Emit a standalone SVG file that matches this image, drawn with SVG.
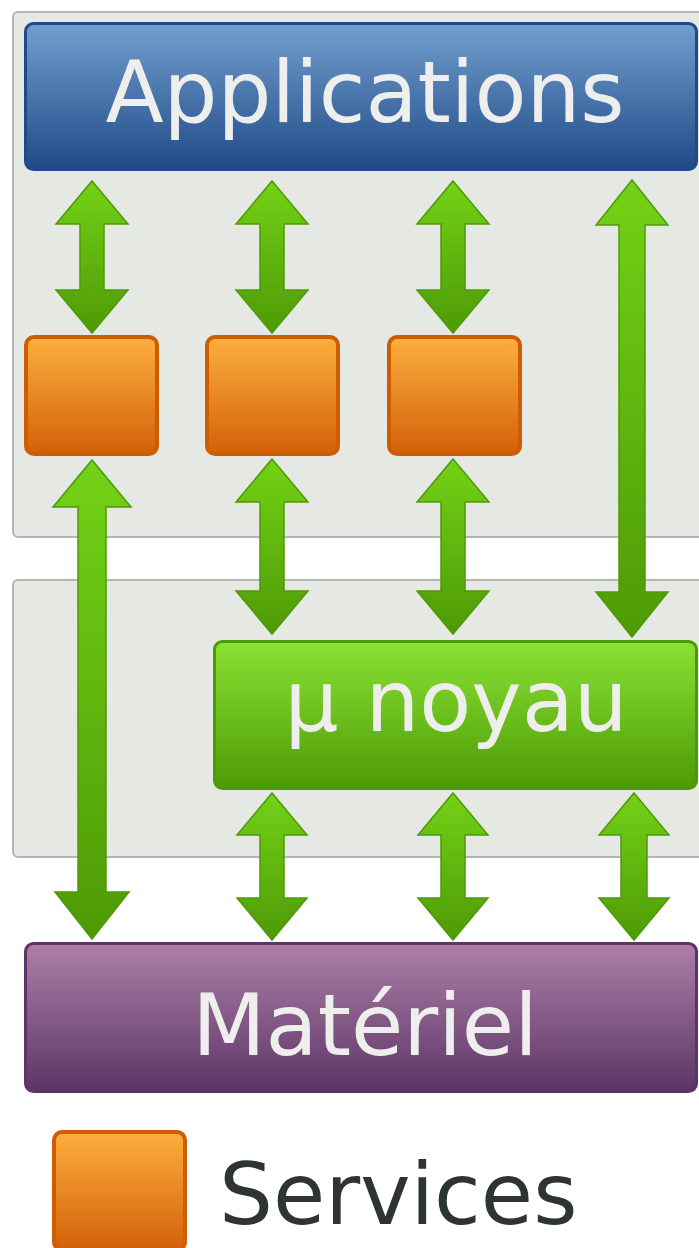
<svg xmlns="http://www.w3.org/2000/svg" width="699" height="1248" viewBox="0 0 699 1248">
  <defs>
    <linearGradient id="gBlue" x1="0" y1="0" x2="0" y2="1">
      <stop offset="0" stop-color="#729fcf"/>
      <stop offset="1" stop-color="#204a87"/>
    </linearGradient>
    <linearGradient id="gOrange" x1="0" y1="0" x2="0" y2="1">
      <stop offset="0" stop-color="#fcaf3e"/>
      <stop offset="1" stop-color="#d4600a"/>
    </linearGradient>
    <linearGradient id="gGreen" x1="0" y1="0" x2="0" y2="1">
      <stop offset="0" stop-color="#8ae234"/>
      <stop offset="1" stop-color="#4e9a06"/>
    </linearGradient>
    <linearGradient id="gPurple" x1="0" y1="0" x2="0" y2="1">
      <stop offset="0" stop-color="#ad7fa8"/>
      <stop offset="1" stop-color="#5c3566"/>
    </linearGradient>
    <linearGradient id="gArrow" x1="0" y1="0" x2="0" y2="1">
      <stop offset="0" stop-color="#73d216"/>
      <stop offset="1" stop-color="#4e9a06"/>
    </linearGradient>
  </defs>
  <style>
    .panel { fill: #e6e8e3; stroke: #b4b5b2; stroke-width: 2; }
    .blue { fill: url(#gBlue); stroke: #204a87; stroke-width: 3; }
    .orange { fill: url(#gOrange); stroke: #ce5c00; stroke-width: 4; }
    .green { fill: url(#gGreen); stroke: #4e9a06; stroke-width: 3; }
    .purple { fill: url(#gPurple); stroke: #5c3566; stroke-width: 3; }
    .arrow { fill: url(#gArrow); stroke: #4e9a06; stroke-width: 1.5; stroke-linejoin: miter; }
    .label { font-family: "DejaVu Sans", sans-serif; font-size: 85px; fill: #eeeeec; text-anchor: middle; }
    .legend { font-family: "DejaVu Sans", sans-serif; font-size: 85px; fill: #2e3436; }
  </style>

  <!-- background panels -->
  <g id="panel-user">
    <rect class="panel" x="13" y="12" width="700" height="525" rx="5"/>
  </g>
  <g id="panel-kernel">
    <rect class="panel" x="13" y="580" width="700" height="277" rx="5"/>
  </g>

  <!-- connectors: double-headed arrows -->
  <g id="connectors">
    <!-- applications <-> services -->
    <path class="arrow" d="M92,181 L128,224 L104,224 L104,290 L128,290 L92,333 L56,290 L80,290 L80,224 L56,224 Z"/>
    <path class="arrow" d="M272,181 L308,224 L284,224 L284,290 L308,290 L272,333 L236,290 L260,290 L260,224 L236,224 Z"/>
    <path class="arrow" d="M453,181 L489,224 L465,224 L465,290 L489,290 L453,333 L417,290 L441,290 L441,224 L417,224 Z"/>
    <!-- applications <-> micro-kernel -->
    <path class="arrow" d="M632,180 L668,225 L645,225 L645,592 L668,592 L632,637 L596,592 L619,592 L619,225 L596,225 Z"/>
    <!-- service <-> hardware -->
    <path class="arrow" d="M92,460 L131,507 L106,507 L106,892 L129,892 L92,939 L55,892 L78,892 L78,507 L53,507 Z"/>
    <!-- services <-> micro-kernel -->
    <path class="arrow" d="M272,459 L308,502 L284,502 L284,591 L308,591 L272,634 L236,591 L260,591 L260,502 L236,502 Z"/>
    <path class="arrow" d="M453,459 L489,502 L465,502 L465,591 L489,591 L453,634 L417,591 L441,591 L441,502 L417,502 Z"/>
    <!-- micro-kernel <-> hardware -->
    <path class="arrow" d="M272,793 L307,835 L284,835 L284,898 L307,898 L272,940 L237,898 L260,898 L260,835 L237,835 Z"/>
    <path class="arrow" d="M453,793 L488,835 L465,835 L465,898 L488,898 L453,940 L418,898 L441,898 L441,835 L418,835 Z"/>
    <path class="arrow" d="M634,793 L669,835 L647,835 L647,898 L669,898 L634,940 L599,898 L621,898 L621,835 L599,835 Z"/>
  </g>

  <g id="applications">
    <rect class="blue" x="25.5" y="23.5" width="671" height="146" rx="8"/>
    <text class="label" x="365" y="122">Applications</text>
  </g>

  <g id="service-1">
    <rect class="orange" x="26" y="337" width="131" height="117" rx="8"/>
  </g>
  <g id="service-2">
    <rect class="orange" x="207" y="337" width="131" height="117" rx="8"/>
  </g>
  <g id="service-3">
    <rect class="orange" x="389" y="337" width="131" height="117" rx="8"/>
  </g>

  <g id="micro-kernel">
    <rect class="green" x="214.5" y="641.5" width="482" height="147" rx="8"/>
    <text class="label" x="456" y="731">μ noyau</text>
  </g>

  <g id="hardware">
    <rect class="purple" x="25.5" y="943.5" width="671" height="148" rx="8"/>
    <text class="label" x="365" y="1055">Matériel</text>
  </g>

  <g id="legend">
    <rect class="orange" x="54" y="1132" width="131" height="118" rx="8"/>
    <text class="legend" x="219" y="1224">Services</text>
  </g>
</svg>
